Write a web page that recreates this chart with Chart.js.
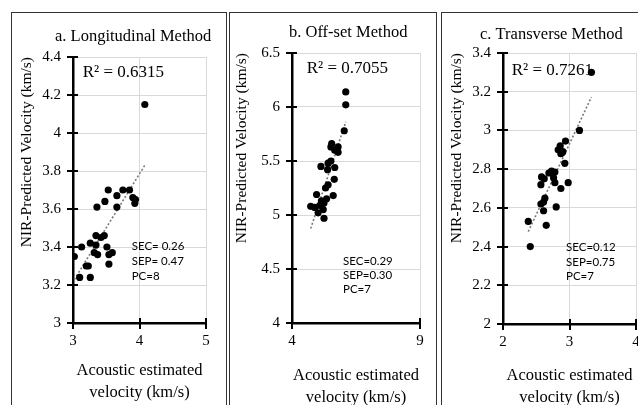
<!DOCTYPE html>
<html>
<head>
<meta charset="utf-8">
<title>NIR-predicted vs acoustic velocity</title>
<script src="https://cdn.jsdelivr.net/npm/chart.js@4.4.1/dist/chart.umd.min.js"></script>
<style>
  html, body { margin: 0; padding: 0; background: #fff; }
  body { position: relative; width: 638px; height: 405px; overflow: hidden; }
  .panel { position: absolute; top: 12px; height: 420px; border: 1px solid #333; box-sizing: border-box; }
  .panel canvas { position: absolute; left: 0; top: 0; }
</style>
</head>
<body>
<div class="panel" style="left:11px; width:216px"><canvas id="chart-long" width="214" height="397"></canvas></div>
<div class="panel" style="left:229px; width:208px"><canvas id="chart-offset" width="206" height="397"></canvas></div>
<div class="panel" style="left:441px; width:230px"><canvas id="chart-trans" width="214" height="397"></canvas></div>

<script>
// a. Longitudinal method
const longX = [3.02, 3.10, 3.13, 3.20, 3.23, 3.26, 3.26, 3.32, 3.345, 3.345, 3.37, 3.42, 3.47, 3.51,
               3.54, 3.59, 3.54, 3.36, 3.48, 3.53, 3.66, 3.66, 3.75, 3.85, 3.90, 3.94, 3.93, 4.08];
const longY = [3.35, 3.24, 3.40, 3.30, 3.30, 3.42, 3.24, 3.37, 3.41, 3.46, 3.36, 3.45, 3.46, 3.40,
               3.36, 3.37, 3.31, 3.61, 3.64, 3.70, 3.67, 3.61, 3.70, 3.70, 3.66, 3.65, 3.63, 4.15];
const longXTicks = [3, 4, 5];
const longYTicks = [3, 3.2, 3.4, 3.6, 3.8, 4, 4.2, 4.4];
const longR2 = "R² = 0.6315";
const longStats = ["SEC= 0.26", "SEP= 0.47", "PC=8"];

// b. Off-set method
const offX = [4.73, 4.89, 5.02, 5.25, 5.09, 5.22, 5.25, 5.15, 5.35, 4.96, 5.61, 5.31, 5.41, 5.65,
              5.39, 5.67, 5.13, 5.41, 5.52, 5.52, 5.55, 5.67, 5.80, 5.80, 6.04, 6.10, 6.10];
const offY = [5.08, 5.07, 5.02, 4.97, 5.09, 5.05, 5.11, 5.13, 5.15, 5.19, 5.18, 5.25, 5.28, 5.33,
              5.42, 5.44, 5.45, 5.48, 5.50, 5.63, 5.66, 5.60, 5.58, 5.63, 5.78, 6.02, 6.14];
const offXTicks = [4, 9];
const offYTicks = [4, 4.5, 5, 5.5, 6, 6.5];
const offR2 = "R² = 0.7055";
const offStats = ["SEC=0.29", "SEP=0.30", "PC=7"];

// c. Transverse method
const transX = [3.33, 3.15, 2.94, 2.86, 2.83, 2.90, 2.87, 2.93, 2.73, 2.78, 2.69, 2.58, 2.62,
                2.76, 2.78, 2.57, 2.98, 2.87, 2.63, 2.61, 2.57, 2.80, 2.61, 2.65, 2.38, 2.41];
const transY = [3.30, 3.00, 2.945, 2.92, 2.90, 2.89, 2.88, 2.83, 2.79, 2.785, 2.78, 2.76, 2.75,
                2.755, 2.73, 2.72, 2.73, 2.70, 2.65, 2.63, 2.62, 2.605, 2.585, 2.51, 2.53, 2.40];
const transXTicks = [2, 3, 4];
const transYTicks = [2, 2.2, 2.4, 2.6, 2.8, 3, 3.2, 3.4];
const transR2 = "R² = 0.7261";
const transStats = ["SEC=0.12", "SEP=0.75", "PC=7"];

const SERIF = '"Liberation Serif", "Times New Roman", serif';

// least-squares line spanning the x range of the data
function trend(xs, ys) {
    const n = xs.length;
    const mx = xs.reduce((s, v) => s + v, 0) / n;
    const my = ys.reduce((s, v) => s + v, 0) / n;
    let sxy = 0, sxx = 0;
    xs.forEach((v, i) => { sxy += (v - mx) * (ys[i] - my); sxx += (v - mx) ** 2; });
    const k = sxy / sxx, b = my - k * mx;
    const lo = Math.min(...xs), hi = Math.max(...xs);
    return [{ x: lo, y: k * lo + b }, { x: hi, y: k * hi + b }];
}

const tickText = v => String(Number(v.toFixed(2)));

// panel title, R² and calibration stats + Excel style cross ticks
const panelText = {
    id: "panelText",
    beforeDatasetsDraw(chart, args, o) {
        const { ctx, chartArea: a } = chart;
        ctx.save();
        ctx.fillStyle = "#000";
        ctx.textAlign = "left";
        ctx.textBaseline = "middle";
        ctx.font = "16.5px " + SERIF;
        ctx.fillText(o.title, a.left + o.titleAt[0], a.top + o.titleAt[1]);
        ctx.font = "17px " + SERIF;
        ctx.fillText(o.r2, a.left + o.r2At[0], a.top + o.r2At[1]);
        ctx.font = '11.5px Lato, "Open Sans", sans-serif';
        o.stats.forEach((s, i) =>
            ctx.fillText(s, a.left + o.statsAt[0], a.top + o.statsAt[1] + i * o.statsAt[2]));
        ctx.restore();
    },
    afterDraw(chart) {
        const { ctx, chartArea: a, scales: { x, y } } = chart;
        ctx.save();
        ctx.strokeStyle = "#000";
        ctx.lineWidth = 2;
        ctx.beginPath();
        y.ticks.forEach(t => {
            const py = Math.round(y.getPixelForValue(t.value));
            ctx.moveTo(a.left - 6, py); ctx.lineTo(a.left + 5, py);
        });
        x.ticks.forEach(t => {
            const px = Math.round(x.getPixelForValue(t.value));
            ctx.moveTo(px, a.bottom - 5); ctx.lineTo(px, a.bottom + 6);
        });
        ctx.stroke();
        ctx.restore();
    }
};

function makePanel(id, xs, ys, xTicks, yTicks, text, L) {
    const pts = xs.map((v, i) => ({ x: v, y: ys[i] }));
    const tickFont = { family: SERIF, size: 15 };
    return new Chart(document.getElementById(id), {
        type: "scatter",
        data: {
            datasets: [
                {
                    data: pts,
                    backgroundColor: "#000", borderWidth: 0,
                    pointRadius: 3.6, pointHoverRadius: 3.6,
                },
                {
                    type: "line",
                    data: trend(xs, ys),
                    borderColor: "#7a7a7a", borderWidth: 1.6, borderDash: [2, 2],
                    pointRadius: 0, fill: false, tension: 0,
                }
            ]
        },
        options: {
            responsive: false, animation: false, events: [],
            layout: { padding: { top: L.padTop, right: L.padRight, left: 0, bottom: 0 } },
            plugins: { legend: { display: false }, tooltip: { enabled: false }, panelText: text },
            scales: {
                x: {
                    type: "linear", min: xTicks[0], max: xTicks[xTicks.length - 1],
                    afterBuildTicks: s => { s.ticks = xTicks.map(v => ({ value: v })); },
                    afterFit: s => { s.height = L.xHeight; },
                    grid: { color: "#d9d9d9", lineWidth: 1, drawTicks: false },
                    border: { color: "#000", width: 2.5 },
                    ticks: { padding: 9.5, font: tickFont, color: "#000", callback: tickText },
                    title: {
                        display: true, text: ["Acoustic estimated", "velocity (km/s)"], color: "#000",
                        font: { family: SERIF, size: 16.5, lineHeight: 1.364 },
                        padding: { top: 0, bottom: L.xTitlePad }
                    }
                },
                y: {
                    type: "linear", min: yTicks[0], max: yTicks[yTicks.length - 1],
                    afterBuildTicks: s => { s.ticks = yTicks.map(v => ({ value: v })); },
                    afterFit: s => { s.width = L.yWidth; },
                    grid: { color: "#d9d9d9", lineWidth: 1, drawTicks: false },
                    border: { color: "#000", width: 2.5 },
                    ticks: { padding: 12, font: tickFont, color: "#000", callback: tickText },
                    title: {
                        display: true, text: "NIR-Predicted Velocity (km/s)", align: "end", color: "#000",
                        font: { family: SERIF, size: 15.5, lineHeight: 1.2 },
                        padding: { top: L.yTitlePad, bottom: 0 }
                    }
                }
            }
        },
        plugins: [panelText]
    });
}

makePanel("chart-long", longX, longY, longXTicks, longYTicks,
    { title: "a. Longitudinal Method", titleAt: [-18, -20.3], r2: longR2, r2At: [9.7, 15.7],
      stats: longStats, statsAt: [58.7, 189.3, 15] },
    { padTop: 44, padRight: 20, yWidth: 61, xHeight: 87, xTitlePad: 5.7, yTitlePad: 5.4 });

makePanel("chart-offset", offX, offY, offXTicks, offYTicks,
    { title: "b. Off-set Method", titleAt: [-3, -20.7], r2: offR2, r2At: [14.7, 15.3],
      stats: offStats, statsAt: [51, 208.7, 14] },
    { padTop: 40, padRight: 16, yWidth: 62, xHeight: 87, xTitlePad: 0.7, yTitlePad: 3 });

makePanel("chart-trans", transX, transY, transXTicks, transYTicks,
    { title: "c. Transverse Method", titleAt: [-23, -18.3], r2: transR2, r2At: [8.7, 17.7],
      stats: transStats, statsAt: [63, 194.3, 14.5] },
    { padTop: 40, padRight: 20, yWidth: 61, xHeight: 86, xTitlePad: 0.7, yTitlePad: 6 });
</script>
</body>
</html>
